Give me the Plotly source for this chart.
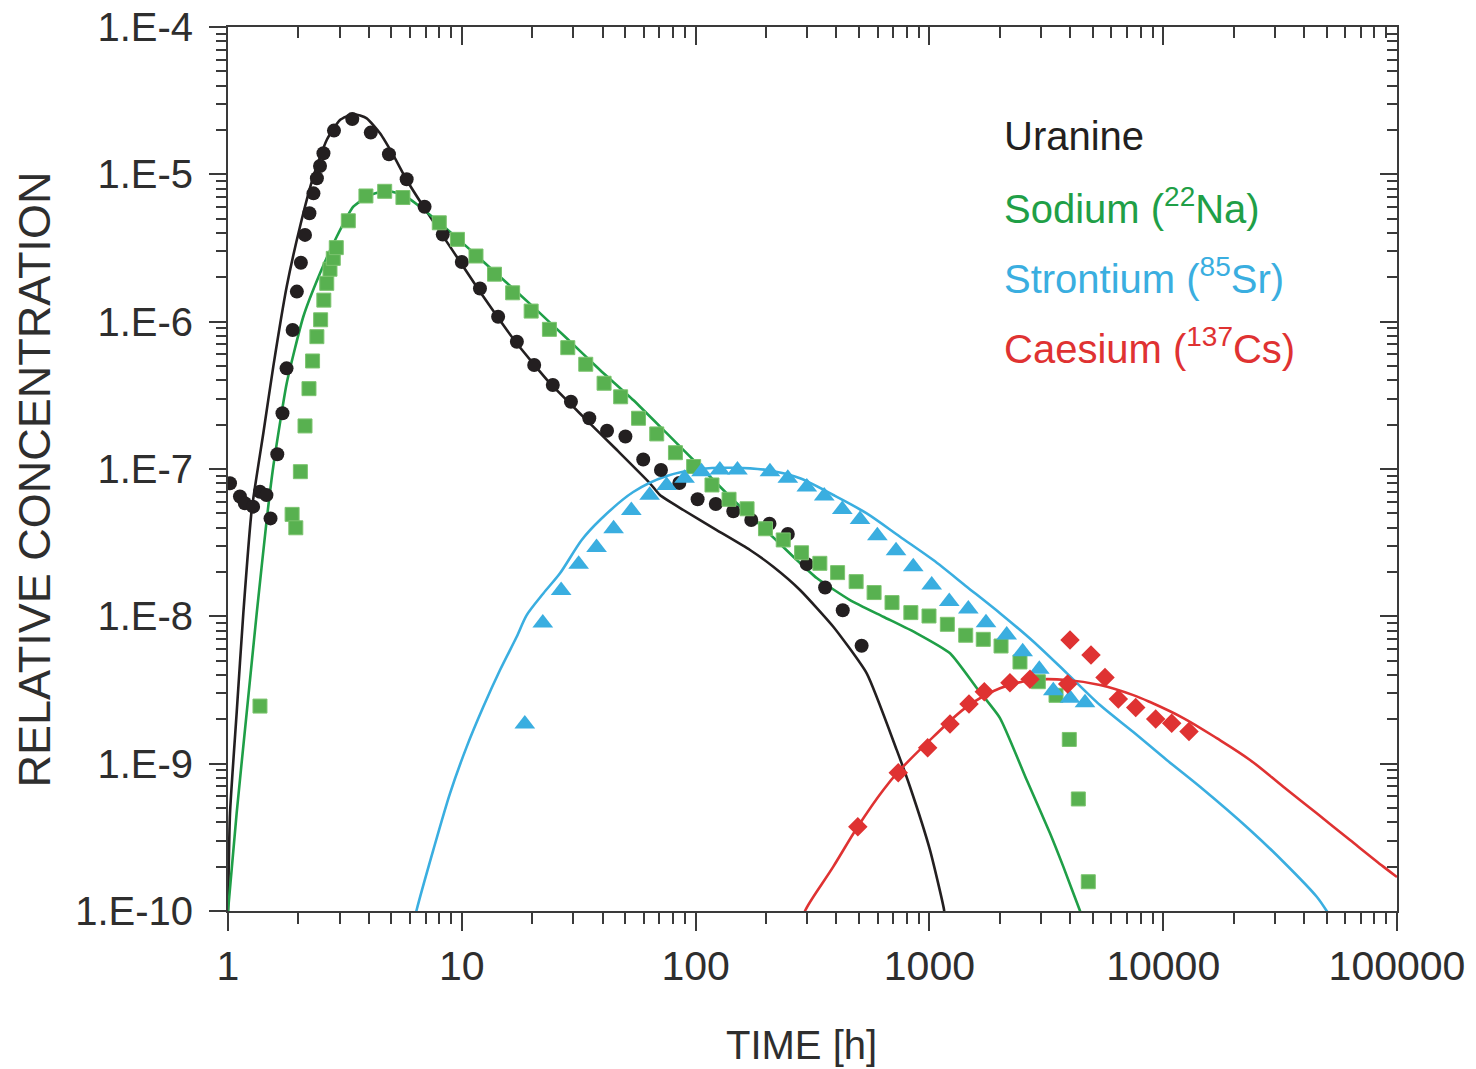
import plotly.graph_objects as go

# ---------------- data ----------------
# Uranine measured
ura_t = [1.02, 1.125, 1.18, 1.28, 1.37, 1.46, 1.52, 1.625, 1.71, 1.78, 1.89, 1.97, 2.05, 2.135,
         2.23, 2.32, 2.40, 2.475, 2.56, 2.84, 3.40, 4.08, 4.88, 5.81, 6.93, 8.29, 10.0, 11.96,
         14.3, 17.2, 20.4, 24.5, 29.3, 35.1, 41.8, 50.1, 59.7, 71.1, 85.2, 102, 122, 145, 173,
         207, 248, 299, 358, 426, 513]
ura_c = [8.0e-8, 6.5e-8, 5.85e-8, 5.55e-8, 7.0e-8, 6.65e-8, 4.62e-8, 1.26e-7, 2.39e-7, 4.82e-7,
         8.78e-7, 1.60e-6, 2.51e-6, 3.88e-6, 5.44e-6, 7.43e-6, 9.4e-6, 1.14e-5, 1.39e-5, 1.98e-5,
         2.37e-5, 1.92e-5, 1.37e-5, 9.25e-6, 6.03e-6, 3.90e-6, 2.54e-6, 1.68e-6, 1.08e-6, 7.31e-7,
         5.08e-7, 3.72e-7, 2.86e-7, 2.21e-7, 1.82e-7, 1.66e-7, 1.16e-7, 9.84e-8, 8.03e-8, 6.24e-8,
         5.79e-8, 5.17e-8, 4.51e-8, 4.25e-8, 3.62e-8, 2.26e-8, 1.57e-8, 1.10e-8, 6.32e-9]

# Sodium measured
na_t = [1.37, 1.88, 1.95, 2.04, 2.135, 2.22, 2.30, 2.40, 2.49, 2.57, 2.645, 2.73, 2.82, 2.905,
        3.27, 3.89, 4.68, 5.60, 8.01, 9.58, 11.5, 13.8, 16.5, 19.8, 23.7, 28.4, 33.9, 40.6, 47.8,
        57.0, 68.2, 82.0, 98.1, 117.5, 139, 166, 199, 237, 284, 340, 405, 486, 580, 692, 833,
        996, 1193, 1430, 1700, 2025, 2440, 2923, 3480, 3966, 4335, 4782]
na_c = [2.46e-9, 4.92e-8, 3.99e-8, 9.59e-8, 1.96e-7, 3.51e-7, 5.41e-7, 7.91e-7, 1.03e-6, 1.40e-6,
        1.82e-6, 2.27e-6, 2.69e-6, 3.18e-6, 4.84e-6, 7.13e-6, 7.67e-6, 6.96e-6, 4.69e-6, 3.62e-6,
        2.79e-6, 2.10e-6, 1.57e-6, 1.18e-6, 8.87e-7, 6.66e-7, 5.14e-7, 3.82e-7, 3.09e-7, 2.21e-7,
        1.73e-7, 1.29e-7, 1.04e-7, 7.79e-8, 6.23e-8, 5.37e-8, 3.93e-8, 3.30e-8, 2.70e-8, 2.29e-8,
        1.98e-8, 1.72e-8, 1.45e-8, 1.24e-8, 1.06e-8, 1.005e-8, 8.83e-9, 7.44e-9, 6.98e-9, 6.29e-9,
        4.90e-9, 3.60e-9, 2.91e-9, 1.46e-9, 5.76e-10, 1.58e-10]

# Strontium measured
sr_t = [18.6, 22.2, 26.6, 31.6, 37.7, 44.6, 53.1, 63.6, 75.2, 89.7, 106, 127, 151, 208, 248, 299,
        355, 424, 505, 599, 720, 853, 1023, 1216, 1467, 1746, 2141, 2506, 2952, 3388, 3995, 4630]
sr_c = [1.86e-9, 9.01e-9, 1.50e-8, 2.26e-8, 2.93e-8, 3.93e-8, 5.23e-8, 6.63e-8, 7.73e-8, 8.65e-8,
        9.59e-8, 9.84e-8, 9.84e-8, 9.59e-8, 8.65e-8, 7.55e-8, 6.56e-8, 5.31e-8, 4.55e-8, 3.52e-8,
        2.79e-8, 2.17e-8, 1.63e-8, 1.26e-8, 1.12e-8, 9.05e-9, 7.47e-9, 5.75e-9, 4.37e-9, 3.13e-9,
        2.78e-9, 2.59e-9]

# Caesium measured
cs_t = [494, 736, 983, 1225, 1477, 1717, 2211, 2694, 3904, 3993, 4912, 5638, 6427, 7629, 9288,
        10870, 12890]
cs_c = [3.73e-10, 8.68e-10, 1.28e-9, 1.86e-9, 2.54e-9, 3.08e-9, 3.54e-9, 3.74e-9, 3.47e-9, 6.91e-9,
        5.46e-9, 3.85e-9, 2.75e-9, 2.41e-9, 2.01e-9, 1.88e-9, 1.65e-9]

# Model curves
ura_fit_t = [1.0, 1.02, 1.089, 1.163, 1.263, 1.416, 1.562, 1.783, 2.032, 2.317, 2.644, 3.013, 3.435,
             3.921, 4.468, 5.093, 5.811, 7.078, 8.905, 12.36, 17.17, 23.84, 33.09, 45.97, 63.8, 70.4,
             88.6, 123.1, 170.9, 214.9, 279.6, 388.1, 539.4, 724.6, 826, 1006, 1155, 1170]
ura_fit_c = [1.0e-10, 4.62e-10, 2.21e-9, 1.05e-8, 5.27e-8, 1.75e-7, 4.95e-7, 1.73e-6, 4.41e-6, 9.64e-6,
             1.71e-5, 2.34e-5, 2.57e-5, 2.40e-5, 1.90e-5, 1.35e-5, 9.15e-6, 5.58e-6, 3.23e-6, 1.48e-6,
             7.13e-7, 3.82e-7, 2.26e-7, 1.35e-7, 8.0e-8, 6.66e-8, 5.27e-8, 3.85e-8, 2.82e-8, 2.17e-8,
             1.51e-8, 8.50e-9, 4.10e-9, 1.24e-9, 6.97e-10, 2.59e-10, 1.02e-10, 8.0e-11]

na_fit_t = [1.0, 1.089, 1.202, 1.327, 1.464, 1.562, 1.783, 2.099, 2.475, 2.917, 3.435, 4.05, 4.773,
            5.621, 6.627, 8.07, 10.49, 14.57, 20.22, 28.1, 39.0, 54.1, 75.2, 104.4, 145, 201.4, 261.8,
            329.6, 457.5, 635, 882.6, 1225, 1594, 2004, 2608, 3280, 3739, 4409, 4600]
na_fit_c = [1.0e-10, 4.62e-10, 2.21e-9, 1.05e-8, 4.51e-8, 1.04e-7, 3.82e-7, 1.08e-6, 2.13e-6, 3.77e-6,
            6.03e-6, 7.24e-6, 7.74e-6, 7.24e-6, 6.03e-6, 4.65e-6, 3.23e-6, 2.02e-6, 1.26e-6, 7.71e-7,
            4.70e-7, 2.94e-7, 1.75e-7, 1.04e-7, 6.16e-8, 3.79e-8, 2.54e-8, 1.82e-8, 1.29e-8, 9.94e-9,
            7.67e-9, 5.61e-9, 3.26e-9, 2.04e-9, 7.74e-10, 3.37e-10, 2.0e-10, 1.0e-10, 8.5e-11]

sr_fit_t = [6.3, 6.413, 7.55, 8.905, 10.49, 12.36, 14.57, 17.17, 18.95, 22.31, 26.3, 32.57, 39.0, 54.1,
            75.2, 104.4, 145, 201.4, 279.6, 388.1, 539.4, 748.7, 1039, 1444, 2004, 2782, 3867, 5366,
            7449, 10350, 14370, 23510, 32640, 45360, 50050, 52000]
sr_fit_c = [9.0e-11, 1.02e-10, 2.59e-10, 6.29e-10, 1.30e-9, 2.43e-9, 4.32e-9, 7.27e-9, 1.02e-8, 1.43e-8,
            1.96e-8, 3.30e-8, 4.51e-8, 6.98e-8, 8.96e-8, 1.0e-7, 1.02e-7, 9.84e-8, 8.65e-8, 6.66e-8,
            5.0e-8, 3.47e-8, 2.41e-8, 1.59e-8, 1.05e-8, 6.75e-9, 4.12e-9, 2.50e-9, 1.64e-9, 1.06e-9,
            6.97e-10, 3.55e-10, 2.16e-10, 1.25e-10, 1.0e-10, 9.0e-11]

cs_fit_t = [290, 293.8, 388.1, 493.6, 635, 748.7, 1039, 1444, 2004, 2782, 3867, 5366, 7449, 8783,
            12190, 16940, 23510, 32640, 45360, 62950, 87400, 100000]
cs_fit_c = [9.0e-11, 1.0e-10, 2.0e-10, 3.73e-10, 6.63e-10, 9.06e-10, 1.52e-9, 2.43e-9, 3.25e-9, 3.70e-9,
            3.70e-9, 3.42e-9, 2.92e-9, 2.62e-9, 2.04e-9, 1.49e-9, 1.06e-9, 6.97e-10, 4.60e-10, 3.03e-10,
            2.0e-10, 1.70e-10]

# axis ticks
x_tickvals = [1, 10, 100, 1000, 10000, 100000]
x_ticktext = ["1", "10", "100", "1000", "10000", "100000"]
y_tickvals = [1e-10, 1e-9, 1e-8, 1e-7, 1e-6, 1e-5, 1e-4]
y_ticktext = ["1.E-10", "1.E-9", "1.E-8", "1.E-7", "1.E-6", "1.E-5", "1.E-4"]
x_minor = [k * 10 ** d for d in range(0, 5) for k in range(2, 10)]
y_minor = [k * 10.0 ** d for d in range(-10, -4) for k in range(2, 10)]

legend_labels = ["Uranine", "Sodium (<sup>22</sup>Na)", "Strontium (<sup>85</sup>Sr)",
                 "Caesium (<sup>137</sup>Cs)"]

# ---------------- style ----------------
BLACK = "#231f20"
GREEN_L = "#1f9f47"
GREEN_M = "#58b150"
BLUE = "#3aaee0"
RED = "#df3232"
AX = "#3a3a3a"
FONT = "Liberation Sans, Arial, sans-serif"

fig = go.Figure()

lw = 2.6
for tx, cy, col, sm in [(ura_fit_t, ura_fit_c, BLACK, 0.5), (na_fit_t, na_fit_c, GREEN_L, 0.5),
                        (sr_fit_t, sr_fit_c, BLUE, 0.8), (cs_fit_t, cs_fit_c, RED, 1.0)]:
    fig.add_trace(go.Scatter(x=tx, y=cy, mode="lines",
                             line=dict(color=col, width=lw, shape="spline", smoothing=sm),
                             showlegend=False))

fig.add_trace(go.Scatter(x=ura_t, y=ura_c, mode="markers",
                         marker=dict(symbol="circle", size=14, color=BLACK, line=dict(width=0)),
                         showlegend=False))
fig.add_trace(go.Scatter(x=na_t, y=na_c, mode="markers",
                         marker=dict(symbol="square", size=14, color=GREEN_M,
                                     line=dict(width=1, color="#7cc46f")),
                         showlegend=False))
fig.add_trace(go.Scatter(x=sr_t, y=sr_c, mode="markers",
                         marker=dict(symbol="triangle-up", size=18, color=BLUE, line=dict(width=0)),
                         showlegend=False))
fig.add_trace(go.Scatter(x=cs_t, y=cs_c, mode="markers",
                         marker=dict(symbol="diamond", size=15, color=RED, line=dict(width=0)),
                         showlegend=False))

# dummy trace to activate the mirror axes
fig.add_trace(go.Scatter(x=[10], y=[1e-5], xaxis="x2", yaxis="y2", mode="markers",
                         marker=dict(opacity=0), hoverinfo="skip", showlegend=False))

xtickfont = dict(family=FONT, size=41, color="#2e2e2e")
ytickfont = dict(family=FONT, size=40, color="#2e2e2e")

common_x = dict(type="log", range=[0, 5], showgrid=False, zeroline=False, showline=True,
                linecolor=AX, linewidth=2, tickcolor=AX, tickwidth=1.5, automargin=False)
common_y = dict(type="log", range=[-10, -4], showgrid=False, zeroline=False, showline=True,
                linecolor=AX, linewidth=2, tickcolor=AX, tickwidth=1.5, automargin=False)

fig.update_layout(
    width=1476, height=1069,
    margin=dict(l=228, r=79, t=27, b=158, autoexpand=False),
    paper_bgcolor="white", plot_bgcolor="white",
    xaxis=dict(**common_x, tickmode="array", tickvals=x_tickvals, ticktext=x_ticktext,
               ticks="outside", ticklen=18, tickfont=xtickfont, ticklabelstandoff=0,
               minor=dict(tickmode="array", tickvals=x_minor, ticks="outside", ticklen=11,
                          tickcolor=AX, tickwidth=1.5, showgrid=False)),
    xaxis2=dict(**common_x, overlaying="x", side="top", anchor="y", tickmode="array",
                tickvals=x_tickvals, ticks="inside", ticklen=18, showticklabels=False,
                minor=dict(tickmode="array", tickvals=x_minor, ticks="inside", ticklen=11,
                           tickcolor=AX, tickwidth=1.5, showgrid=False)),
    yaxis=dict(**common_y, tickmode="array", tickvals=y_tickvals, ticktext=y_ticktext,
               ticks="outside", ticklen=17, tickfont=ytickfont, ticklabelstandoff=8,
               minor=dict(tickmode="array", tickvals=y_minor, ticks="outside", ticklen=10,
                          tickcolor=AX, tickwidth=1.5, showgrid=False)),
    yaxis2=dict(**common_y, overlaying="y", side="right", anchor="x", tickmode="array",
                tickvals=y_tickvals, ticks="inside", ticklen=17, showticklabels=False,
                minor=dict(tickmode="array", tickvals=y_minor, ticks="inside", ticklen=10,
                           tickcolor=AX, tickwidth=1.5, showgrid=False)),
)

# axis titles
fig.add_annotation(text="TIME [h]", xref="paper", yref="paper", x=0.4902, y=-0.1516,
                   xanchor="center", yanchor="middle", showarrow=False,
                   font=dict(family=FONT, size=40, color="#2e2e2e"))
fig.add_annotation(text="RELATIVE CONCENTRATION", xref="paper", yref="paper", x=-0.1651, y=0.4881,
                   xanchor="center", yanchor="middle", textangle=-90, showarrow=False,
                   font=dict(family=FONT, size=45, color="#2e2e2e"))

# legend as text
legend_colors = [BLACK, GREEN_L, BLUE, RED]
legend_y = [0.8767, 0.7975, 0.7183, 0.6391]
for lab, col, yy in zip(legend_labels, legend_colors, legend_y):
    fig.add_annotation(text=lab, xref="paper", yref="paper", x=0.6625, y=yy, xanchor="left",
                       yanchor="middle", showarrow=False,
                       font=dict(family=FONT, size=40, color=col))

fig.write_html("out.html")
